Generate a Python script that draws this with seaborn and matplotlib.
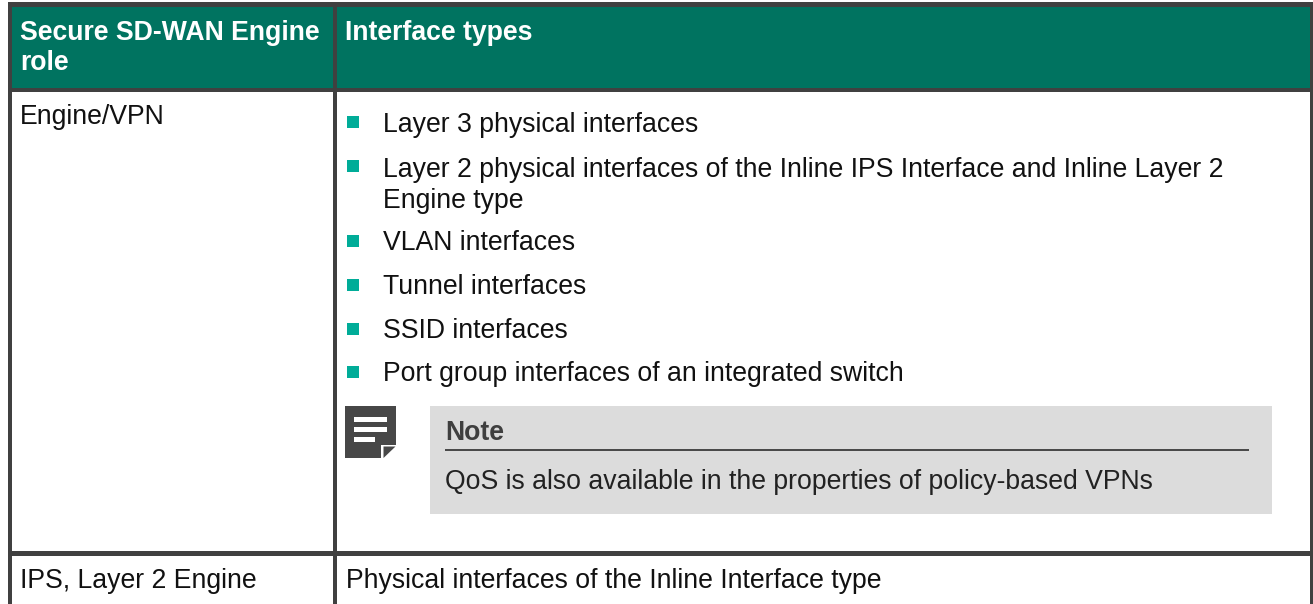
import matplotlib
matplotlib.use("Agg")
import matplotlib.pyplot as plt
from matplotlib.patches import Rectangle, Polygon
import seaborn as sns

sns.set_theme(style="white")
plt.rcParams['font.family'] = ['Liberation Sans', 'DejaVu Sans']

headers = ["Secure SD-WAN Engine\nrole", "Interface types"]
roles = ["Engine/VPN", "IPS, Layer 2 Engine"]
bullets = ["Layer 3 physical interfaces",
           "Layer 2 physical interfaces of the Inline IPS Interface and Inline Layer 2\nEngine type",
           "VLAN interfaces", "Tunnel interfaces", "SSID interfaces",
           "Port group interfaces of an integrated switch"]
bullet_y = [125, 185.5, 243, 287, 331, 374]
bullet_mark_y = [122, 166, 241, 285, 329, 372]
note_title = "Note"
note_text = "QoS is also available in the properties of policy-based VPNs"
last_cell = "Physical interfaces of the Inline Interface type"

DARK = "#404040"; GREEN = "#007360"; TEAL = "#00ac98"; GREY = "#dcdcdc"; INK = "#111111"; ICON = "#474747"
FS = 19.2

fig = plt.figure(figsize=(13.13, 6.04), dpi=100)
ax = fig.add_axes([0, 0, 1, 1])
ax.set_xlim(0, 1313); ax.set_ylim(604, 0); ax.axis("off")

def rect(x0, y0, x1, y1, c, z=1):
    ax.add_patch(Rectangle((x0, y0), x1 - x0, y1 - y0, fc=c, ec="none", zorder=z))

rect(8, 2, 1313, 90, GREEN)
rect(430, 406, 1272, 514, GREY)
# table rules
rect(8, 2, 1313, 7, DARK, 3)
rect(8, 87.5, 1313, 91.5, DARK, 3)
rect(8, 551, 1313, 555.5, DARK, 3)
rect(8, 2, 11.5, 604, DARK, 3)
rect(333, 2, 336.5, 604, DARK, 3)
rect(1309.5, 2, 1313, 604, DARK, 3)

kw = dict(fontsize=FS, va="center", ha="left", zorder=4, linespacing=1.24)
ax.text(20, 48, headers[0], color="white", fontweight="bold", **kw)
ax.text(345, 33, headers[1], color="white", fontweight="bold", **kw)
ax.text(20, 117, roles[0], color=INK, **kw)
ax.text(20, 581, roles[1], color=INK, **kw)
ax.text(346, 581, last_cell, color=INK, **kw)
for t, y, my in zip(bullets, bullet_y, bullet_mark_y):
    ax.text(383, y, t, color=INK, **kw)
    rect(347, my - 6.5, 359, my + 5.5, TEAL, 4)

# note icon
ax.add_patch(Polygon([[345, 406], [396, 406], [396, 444.5], [381, 444.5], [381, 458], [345, 458]],
                     fc=ICON, ec="none", zorder=4))
ax.add_patch(Polygon([[383.5, 446.5], [395.5, 446.5], [383.5, 458]], fc=ICON, ec="none", zorder=4))
for x1, y in [(387, 419.5), (387, 429.5), (375, 439.5)]:
    rect(354, y - 2.5, x1, y + 2.5, "white", 6)

ax.text(445, 433, note_title, color="#3f3f3f", fontweight="bold", **kw)
rect(445, 449.3, 1249, 451.3, "#4a4a4a", 4)
ax.text(445, 482, note_text, color="#222222", **kw)

fig.savefig("out.png", dpi=100, facecolor="white")
